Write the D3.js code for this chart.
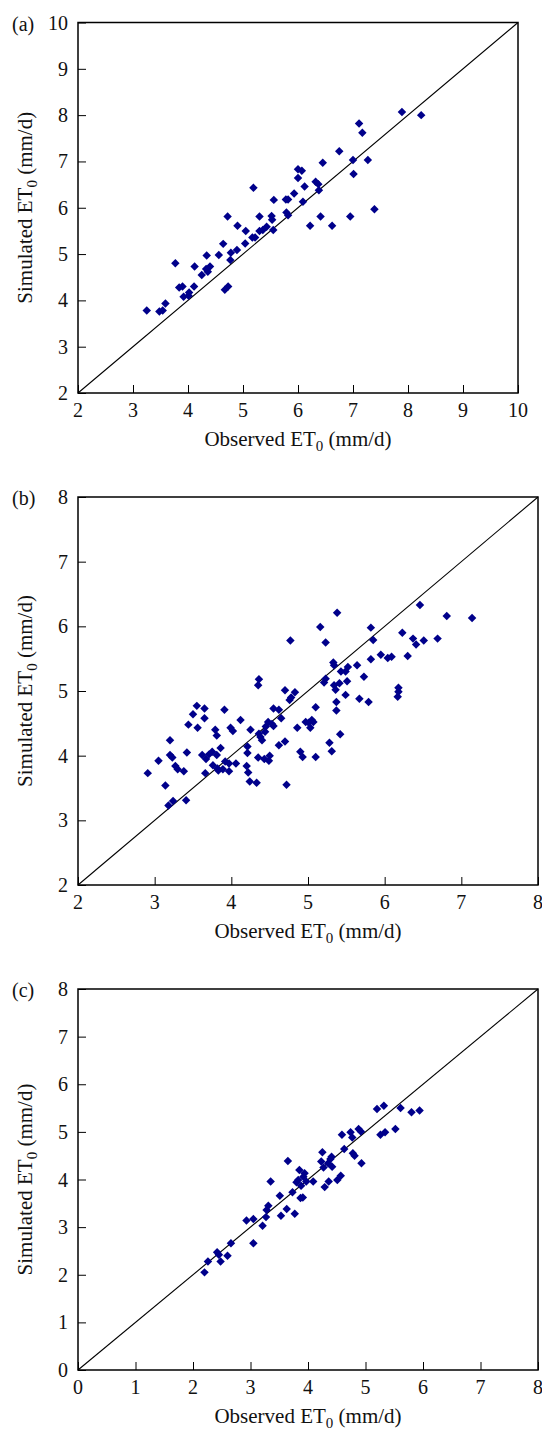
<!DOCTYPE html>
<html>
<head>
<meta charset="utf-8">
<script src="https://cdn.jsdelivr.net/npm/d3@7"></script>
<style>
  body { margin: 0; background: #fff; }
  svg { display: block; }
</style>
</head>
<body>
<svg></svg>
<script>
/* observed vs simulated ET0, three panels */
const obsA = [3.25, 3.48, 3.54, 3.59, 3.77, 3.84, 3.90, 3.92, 4.02, 4.01, 4.11, 4.12, 4.25, 4.34, 4.33, 4.36, 4.40,
              4.56, 4.64, 4.72, 4.67, 4.73, 4.77, 4.78, 4.89, 4.90, 5.04, 5.05, 5.19, 5.17, 5.22, 5.30, 5.30, 5.36,
              5.43, 5.52, 5.53, 5.55, 5.56, 5.78, 5.82, 5.79, 5.82, 5.93, 6.00, 6.00, 6.07, 6.12, 6.09, 6.22, 6.32,
              6.37, 6.38, 6.41, 6.45, 6.62, 6.75, 6.95, 7.00, 7.01, 7.11, 7.17, 7.27, 7.39, 7.89, 8.24];
const simA = [3.78, 3.76, 3.78, 3.93, 4.80, 4.28, 4.30, 4.08, 4.17, 4.10, 4.30, 4.73, 4.55, 4.97, 4.68, 4.62, 4.73,
              4.98, 5.22, 5.81, 4.23, 4.30, 4.87, 5.03, 5.09, 5.61, 5.23, 5.50, 6.43, 5.36, 5.36, 5.81, 5.50, 5.52,
              5.59, 5.82, 5.74, 5.52, 6.17, 6.18, 6.18, 5.90, 5.84, 6.31, 6.64, 6.83, 6.80, 6.46, 6.13, 5.61, 6.56,
              6.51, 6.38, 5.81, 6.97, 5.61, 7.22, 5.81, 7.03, 6.73, 7.82, 7.62, 7.03, 5.97, 8.07, 8.00];

const obsB = [2.91, 3.05, 3.14, 3.18, 3.20, 3.20, 3.23, 3.24, 3.27, 3.30, 3.38, 3.41, 3.42, 3.44, 3.50, 3.55, 3.56,
              3.62, 3.65, 3.65, 3.66, 3.67, 3.71, 3.75, 3.76, 3.79, 3.81, 3.81, 3.82, 3.83, 3.86, 3.89, 3.91, 3.92,
              3.97, 3.97, 3.99, 4.02, 4.06, 4.12, 4.20, 4.21, 4.21, 4.22, 4.24, 4.25, 4.33, 4.35, 4.36, 4.35, 4.36,
              4.38, 4.40, 4.43, 4.44, 4.45, 4.48, 4.49, 4.50, 4.53, 4.55, 4.55, 4.62, 4.62, 4.65, 4.70, 4.70, 4.72,
              4.76, 4.77, 4.78, 4.83, 4.86, 4.90, 4.93, 4.97, 5.01, 5.03, 5.05, 5.07, 5.10, 5.10, 5.16, 5.21, 5.23,
              5.23, 5.28, 5.31, 5.33, 5.34, 5.34, 5.36, 5.37, 5.37, 5.38, 5.41, 5.42, 5.43, 5.49, 5.49, 5.51, 5.52,
              5.64, 5.67, 5.73, 5.79, 5.82, 5.82, 5.85, 5.95, 6.04, 6.09, 6.17, 6.18, 6.18, 6.23, 6.30, 6.37, 6.41,
              6.46, 6.51, 6.69, 6.81, 7.14];
const simB = [3.73, 3.92, 3.54, 3.23, 4.24, 4.01, 3.97, 3.30, 3.84, 3.79, 3.76, 3.31, 4.05, 4.48, 4.64, 4.77, 4.43,
              4.01, 4.73, 4.58, 3.73, 3.95, 4.02, 4.06, 3.85, 4.40, 4.31, 4.01, 3.80, 3.77, 4.12, 3.79, 4.71, 3.91,
              3.76, 3.88, 4.43, 4.38, 3.88, 4.55, 3.84, 4.14, 4.04, 3.74, 3.60, 4.40, 3.58, 5.09, 5.18, 3.97, 4.34,
              4.29, 4.24, 3.95, 4.37, 4.45, 4.52, 3.92, 4.00, 4.49, 4.46, 4.73, 4.71, 4.16, 4.58, 5.01, 4.22, 3.55,
              4.86, 5.78, 4.90, 4.98, 4.43, 4.06, 3.98, 4.52, 4.51, 4.43, 4.55, 4.52, 4.75, 3.98, 5.99, 5.13, 5.19,
              5.75, 4.20, 4.07, 5.44, 5.09, 5.40, 5.02, 4.83, 4.70, 6.21, 5.12, 4.33, 5.30, 5.30, 4.94, 5.15, 5.37,
              5.40, 4.88, 5.22, 4.83, 5.49, 5.98, 5.79, 5.56, 5.51, 5.53, 4.91, 4.99, 5.05, 5.90, 5.54, 5.81, 5.72,
              6.33, 5.78, 5.81, 6.16, 6.13];

const obsC = [2.20, 2.26, 2.42, 2.45, 2.48, 2.60, 2.66, 2.93, 3.05, 3.05, 3.21, 3.27, 3.28, 3.31, 3.35, 3.51, 3.53,
              3.63, 3.65, 3.73, 3.77, 3.80, 3.83, 3.85, 3.87, 3.88, 3.91, 3.92, 3.94, 3.97, 4.09, 4.23, 4.25, 4.27,
              4.29, 4.35, 4.36, 4.39, 4.41, 4.42, 4.51, 4.57, 4.59, 4.63, 4.74, 4.77, 4.78, 4.81, 4.88, 4.92, 4.93,
              5.20, 5.26, 5.32, 5.34, 5.52, 5.61, 5.80, 5.94];
const simC = [2.05, 2.28, 2.47, 2.42, 2.28, 2.40, 2.66, 3.14, 3.17, 2.66, 3.03, 3.21, 3.36, 3.45, 3.96, 3.66, 3.24,
              3.38, 4.39, 3.73, 3.28, 3.94, 3.99, 4.20, 3.61, 3.87, 3.62, 4.06, 4.13, 3.96, 3.96, 4.38, 4.57, 4.25,
              3.84, 4.34, 3.96, 4.43, 4.48, 4.27, 3.99, 4.08, 4.94, 4.64, 4.99, 4.88, 4.55, 4.50, 5.06, 5.01, 4.34,
              5.48, 4.94, 5.55, 4.99, 5.06, 5.50, 5.41, 5.45];

const ticksA = [2, 3, 4, 5, 6, 7, 8, 9, 10];
const ticksB = [2, 3, 4, 5, 6, 7, 8];
const ticksC = [0, 1, 2, 3, 4, 5, 6, 7, 8];

const panels = [
  { label: "(a)", obs: obsA, sim: simA, ticks: ticksA, left: 78, top: 22.5, right: 518, bottom: 393 },
  { label: "(b)", obs: obsB, sim: simB, ticks: ticksB, left: 78, top: 497, right: 538, bottom: 885 },
  { label: "(c)", obs: obsC, sim: simC, ticks: ticksC, left: 78, top: 989, right: 538, bottom: 1370 }
];

const svg = d3.select("svg")
    .attr("width", 542)
    .attr("height", 1430)
    .style("font-family", "'Liberation Serif', 'Times New Roman', serif")
    .style("fill", "#111");

const diamond = d3.symbol().type(d3.symbolSquare).size(36);

panels.forEach(p => {
  const dom = d3.extent(p.ticks);
  const x = d3.scaleLinear().domain(dom).range([p.left, p.right]);
  const y = d3.scaleLinear().domain(dom).range([p.bottom, p.top]);
  const g = svg.append("g");

  // 1:1 line
  g.append("line")
      .attr("x1", x(dom[0])).attr("y1", y(dom[0]))
      .attr("x2", x(dom[1])).attr("y2", y(dom[1]))
      .attr("stroke", "#000")
      .attr("stroke-width", 1.1);

  // inward ticks, labels drawn separately
  const xAxis = g.append("g")
      .attr("transform", `translate(0,${p.bottom})`)
      .call(d3.axisTop(x).tickValues(p.ticks).tickSize(8).tickFormat(""));
  const yAxis = g.append("g")
      .attr("transform", `translate(${p.left},0)`)
      .call(d3.axisRight(y).tickValues(p.ticks).tickSize(8).tickFormat(""));
  [xAxis, yAxis].forEach(a => {
    a.select(".domain").remove();
    a.selectAll("line").attr("stroke", "#000").attr("stroke-width", 1);
  });

  g.append("rect")
      .attr("x", p.left).attr("y", p.top)
      .attr("width", p.right - p.left).attr("height", p.bottom - p.top)
      .attr("fill", "none")
      .attr("stroke", "#000")
      .attr("stroke-width", 1.5);

  g.selectAll(".xt")
    .data(p.ticks)
    .enter()
    .append("text")
      .attr("x", d => x(d))
      .attr("y", p.bottom + 24)
      .attr("text-anchor", "middle")
      .attr("font-size", "20px")
      .text(d => d);

  g.selectAll(".yt")
    .data(p.ticks)
    .enter()
    .append("text")
      .attr("x", p.left - 10)
      .attr("y", d => y(d) + 7)
      .attr("text-anchor", "end")
      .attr("font-size", "20px")
      .text(d => d);

  g.append("text")
      .attr("x", 12)
      .attr("y", p.top + 8)
      .attr("font-size", "20px")
      .text(p.label);

  // axis titles with subscript 0
  const xt = g.append("text")
      .attr("x", (p.left + p.right) / 2)
      .attr("y", p.bottom + 53)
      .attr("text-anchor", "middle")
      .attr("font-size", "21px");
  xt.append("tspan").text("Observed ET");
  xt.append("tspan").attr("dy", 5).attr("font-size", "15px").text("0");
  xt.append("tspan").attr("dy", -5).text(" (mm/d)");

  const yt = g.append("text")
      .attr("transform", `translate(32,${(p.top + p.bottom) / 2}) rotate(-90)`)
      .attr("text-anchor", "middle")
      .attr("font-size", "21px");
  yt.append("tspan").text("Simulated ET");
  yt.append("tspan").attr("dy", 5).attr("font-size", "15px").text("0");
  yt.append("tspan").attr("dy", -5).text(" (mm/d)");

  const pts = p.obs.map((o, i) => ({ o, s: p.sim[i] }));
  g.selectAll(".pt")
    .data(pts)
    .enter()
    .append("path")
      .attr("d", diamond)
      .attr("transform", d => `translate(${x(d.o)},${y(d.s)}) rotate(45)`)
      .attr("fill", "#00008b");
});
</script>
</body>
</html>
